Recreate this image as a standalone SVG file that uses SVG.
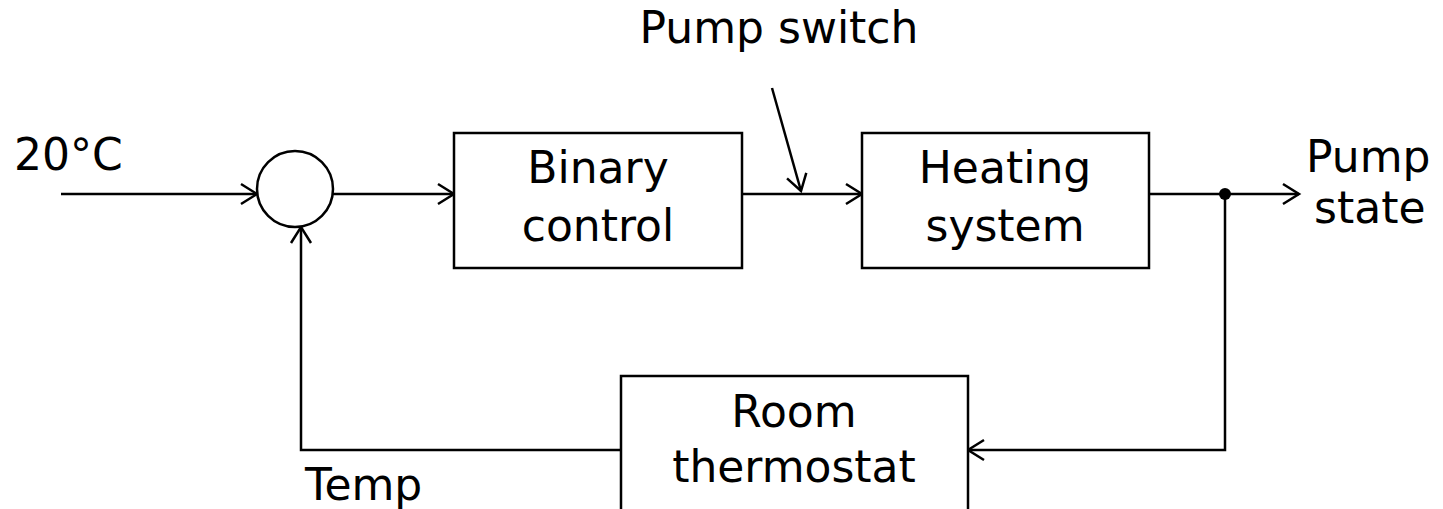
<svg xmlns="http://www.w3.org/2000/svg" width="1443" height="509" viewBox="0 0 1443 509">
<style>
text{font-family:"DejaVu Sans","Noto Sans",sans-serif;font-size:44px;fill:#000}
.c{text-anchor:middle}
.box{fill:#fff;stroke:#000;stroke-width:2.5}
.ln{fill:none;stroke:#000;stroke-width:2.5}
</style>
<defs>
<marker id="ah" markerWidth="20" markerHeight="24" refX="17" refY="12" orient="auto" markerUnits="userSpaceOnUse">
<path d="M1,2 L17,12 L1,22" fill="none" stroke="#000" stroke-width="2.5"/>
</marker>
</defs>
<rect width="1443" height="509" fill="#fff"/>
<g id="connectors">
<line class="ln" x1="61" y1="194" x2="257" y2="194" marker-end="url(#ah)"/>
<line class="ln" x1="333" y1="194" x2="454" y2="194" marker-end="url(#ah)"/>
<line class="ln" x1="742" y1="194" x2="862" y2="194" marker-end="url(#ah)"/>
<line class="ln" x1="772" y1="88" x2="801" y2="191" marker-end="url(#ah)"/>
<line class="ln" x1="1149" y1="194" x2="1299" y2="194" marker-end="url(#ah)"/>
<polyline class="ln" points="1225,194 1225,450 968,450" marker-end="url(#ah)"/>
<polyline class="ln" points="621,450 301,450 301,227" marker-end="url(#ah)"/>
<circle cx="1225" cy="194" r="6" fill="#000"/>
</g>
<g id="sum"><circle cx="295" cy="189" r="38" class="box"/></g>
<g id="binary-control">
<rect class="box" x="454" y="133" width="288" height="135"/>
<text class="c" x="598" y="183">Binary</text>
<text class="c" x="598" y="241">control</text>
</g>
<g id="heating-system">
<rect class="box" x="862" y="133" width="287" height="135"/>
<text class="c" x="1005" y="183">Heating</text>
<text class="c" x="1005" y="241">system</text>
</g>
<g id="room-thermostat">
<rect class="box" x="621" y="376" width="347" height="150"/>
<text class="c" x="794" y="427">Room</text>
<text class="c" x="794" y="482">thermostat</text>
</g>
<g id="labels">
<text x="14" y="170">20°C</text>
<text class="c" x="779" y="43">Pump switch</text>
<text x="1306" y="172">Pump</text>
<text x="1314" y="223">state</text>
<text x="305" y="500">Temp</text>
</g>
</svg>
